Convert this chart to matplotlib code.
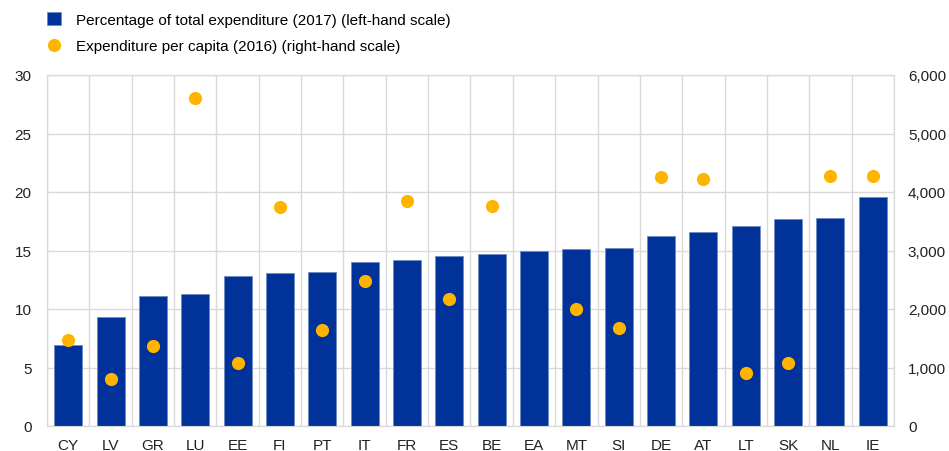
import matplotlib.pyplot as plt
import numpy as np
from matplotlib.ticker import FuncFormatter

plt.rcParams['font.family'] = ['Liberation Sans', 'DejaVu Sans']

# countries, sorted by share of total expenditure
countries = ['CY', 'LV', 'GR', 'LU', 'EE', 'FI', 'PT', 'IT', 'FR', 'ES',
             'BE', 'EA', 'MT', 'SI', 'DE', 'AT', 'LT', 'SK', 'NL', 'IE']
share_2017 = [6.9, 9.3, 11.1, 11.3, 12.8, 13.1, 13.2, 14.0, 14.2, 14.5,
              14.7, 15.0, 15.1, 15.2, 16.2, 16.6, 17.1, 17.7, 17.8, 19.6]
per_capita_2016 = [1475, 800, 1370, 5610, 1070, 3745, 1640, 2480, 3850, 2170,
                   3760, np.nan, 2000, 1675, 4260, 4222, 905, 1075, 4280, 4280]

blue = '#003299'
yellow = '#ffb400'
grid_col = '#d9d9d9'

fig = plt.figure(figsize=(9.49, 4.52), dpi=100)
ax = fig.add_axes([47/949, 25/452, 847/949, 351/452])
x = np.arange(len(countries))

ax.bar(x, share_2017, width=0.66, color=blue, edgecolor='#6f8cc8',
       linewidth=0.6, zorder=3, label='Percentage of total expenditure (2017) (left-hand scale)')
ax.set_xlim(-0.5, len(countries) - 0.5)
ax.set_ylim(0, 30)
ax.set_yticks(range(0, 31, 5))
ax.set_xticks(x)
ax.set_xticklabels(countries)
ax.set_xticks(np.arange(-0.5, len(countries)), minor=True)
ax.grid(False)
ax.grid(axis='y', which='major', color=grid_col, linewidth=1, zorder=0)
ax.grid(axis='x', which='minor', color=grid_col, linewidth=1, zorder=0)
ax.tick_params(which='both', length=0, labelsize=11, colors='#222222')
ax.tick_params(axis='x', pad=9)
ax.tick_params(axis='y', pad=11)
for s in ax.spines.values():
    s.set_color(grid_col)

ax2 = ax.twinx()
ax2.scatter(x, per_capita_2016, s=90, color=yellow, zorder=4, linewidths=0,
            label='Expenditure per capita (2016) (right-hand scale)')
ax2.set_ylim(0, 6000)
ax2.set_yticks(range(0, 6001, 1000))
ax2.yaxis.set_major_formatter(FuncFormatter(lambda v, p: f'{int(v):,}'))
ax2.tick_params(length=0, labelsize=11, colors='#222222', pad=10)
for s in ax2.spines.values():
    s.set_color(grid_col)

h1, l1 = ax.get_legend_handles_labels()
h2, l2 = ax2.get_legend_handles_labels()
leg = fig.legend(h1 + h2, l1 + l2, loc='upper left', bbox_to_anchor=(0.038, 0.995),
                 frameon=False, fontsize=11, handlelength=0.9, handleheight=0.9,
                 handletextpad=1.0, labelspacing=0.75, borderaxespad=0.3,
                 scatterpoints=1)

fig.savefig('out.png', dpi=100)
